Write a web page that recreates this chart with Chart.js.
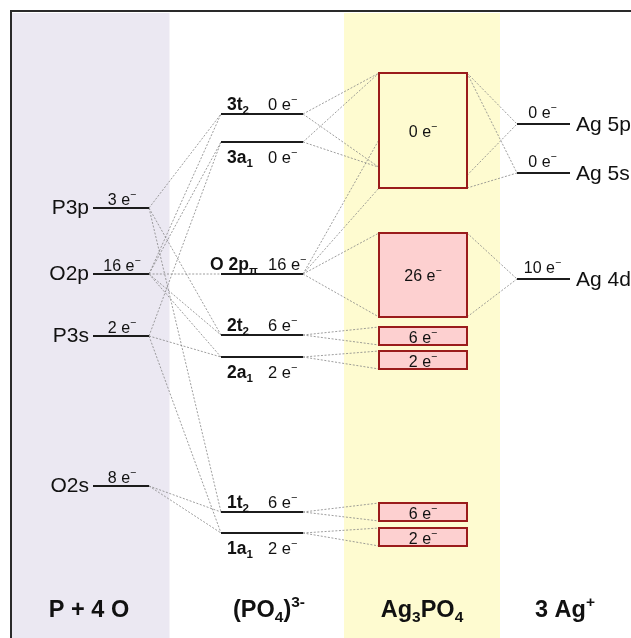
<!DOCTYPE html>
<html>
<head>
<meta charset="utf-8">
<script src="https://cdn.jsdelivr.net/npm/chart.js@4/dist/chart.umd.min.js"></script>
<style>
  html, body { margin: 0; padding: 0; background: #ffffff; }
  #wrap { position: relative; width: 631px; height: 638px; }
</style>
</head>
<body>
<div id="wrap"><canvas id="mo"></canvas></div>
<script>
// ---- Energy levels (arbitrary energy units, higher = less bound) ----
// Atomic orbitals of P + 4 O
const atomicNames = ['P3p', 'O2p', 'P3s', 'O2s'];
const atomicEnergies = [43.0, 36.4, 30.2, 15.2];
const atomicElectrons = [3, 16, 2, 8];

// Molecular orbitals of the (PO4)3- ion; "_" starts a subscript
const ionNames = ['3t_2', '3a_1', 'O 2p_π', '2t_2', '2a_1', '1t_2', '1a_1'];
const ionEnergies = [52.4, 49.6, 36.4, 30.3, 28.1, 12.6, 10.5];
const ionElectrons = [0, 0, 16, 6, 2, 6, 2];
const ionLabelBelow = [false, true, false, false, true, false, true];

// Bands of solid Ag3PO4 (upper and lower energy of each band)
const bandTop = [56.5, 40.5, 31.1, 28.7, 13.5, 11.0];
const bandBottom = [45.0, 32.1, 29.3, 26.9, 11.7, 9.2];
const bandElectrons = [0, 26, 6, 2, 6, 2];

// Ag+ levels
const agNames = ['Ag 5p', 'Ag 5s', 'Ag 4d'];
const agEnergies = [51.4, 46.5, 35.9];
const agElectrons = [0, 0, 10];

// Correlation lines: [atomic index, ion MO index]
const atomIonLinks = [[0,0],[0,3],[0,5],[1,0],[1,1],[1,2],[1,3],[1,4],[2,1],[2,4],[2,6],[3,5],[3,6]];
// [ion MO index, band index, attach point (0 = band top, 1 = band bottom)]
const ionBandLinks = [[0,0,0],[0,0,0.82],[1,0,0],[1,0,0.82],[2,0,0.58],[2,0,1],[2,1,0],[2,1,1],
                      [3,2,0],[3,2,1],[4,3,0],[4,3,1],[5,4,0],[5,4,1],[6,5,0],[6,5,1]];
// [Ag level index, band index, attach point]
const agBandLinks = [[0,0,0],[0,0,0.89],[1,0,0],[1,0,1],[2,1,0],[2,1,1]];

// Column headings
const columnTitles = [
  [['P + 4 O','n']],
  [['(PO','n'],['4','sub'],[')','n'],['3-','sup']],
  [['Ag','n'],['3','sub'],['PO','n'],['4','sub']],
  [['3 Ag','n'],['+','sup']]
];

// ---- Layout (x in horizontal units of the diagram) ----
const ATOM_X = [9.3, 14.9];
const ION_X = [22.1, 30.3];
const BAND_X = [37.9, 46.7];
const AG_X = [51.7, 57.0];
const STRIPES = [{x0: 1.2, x1: 16.95, color: '#ebe8f2'}, {x0: 34.4, x1: 50.0, color: '#fefbd0'}];
const TITLE_X = [8.9, 26.9, 42.2, 56.5];

const FONT = '"Liberation Sans", Arial, Helvetica, sans-serif';
const LEVEL_COLOR = '#1c1c1c';
const LINK_COLOR = '#858585';

function level(x0, x1, e) {
  return { data: [{x: x0, y: e}, {x: x1, y: e}], showLine: true, borderColor: LEVEL_COLOR,
           borderWidth: 2, pointRadius: 0, borderCapStyle: 'butt', order: 1 };
}
function link(xa, ea, xb, eb) {
  return { data: [{x: xa, y: ea}, {x: xb, y: eb}], showLine: true, borderColor: LINK_COLOR,
           borderWidth: 0.8, borderDash: [2, 1.6], pointRadius: 0, order: 2 };
}
const bandAt = (b, f) => bandTop[b] - f * (bandTop[b] - bandBottom[b]);

const datasets = [];
atomIonLinks.forEach(([a, m]) => datasets.push(link(ATOM_X[1], atomicEnergies[a], ION_X[0], ionEnergies[m])));
ionBandLinks.forEach(([m, b, f]) => datasets.push(link(ION_X[1], ionEnergies[m], BAND_X[0], bandAt(b, f))));
agBandLinks.forEach(([g, b, f]) => datasets.push(link(BAND_X[1], bandAt(b, f), AG_X[0], agEnergies[g])));
atomicEnergies.forEach(e => datasets.push(level(ATOM_X[0], ATOM_X[1], e)));
ionEnergies.forEach(e => datasets.push(level(ION_X[0], ION_X[1], e)));
agEnergies.forEach(e => datasets.push(level(AG_X[0], AG_X[1], e)));

// Rich text: parts are [text, mode] with mode 'n', 'sub' or 'sup'
function partsWidth(ctx, parts, size, weight) {
  let w = 0;
  parts.forEach(([t, mode]) => {
    const s = mode === 'n' ? size : size * 0.66;
    ctx.font = `${weight} ${s}px ${FONT}`;
    w += ctx.measureText(t).width;
  });
  return w;
}
function drawParts(ctx, parts, x, y, align, size, weight) {
  const w = partsWidth(ctx, parts, size, weight);
  let cx = align === 'center' ? x - w / 2 : align === 'right' ? x - w : x;
  ctx.textAlign = 'left';
  ctx.textBaseline = 'alphabetic';
  parts.forEach(([t, mode]) => {
    const s = mode === 'n' ? size : size * 0.66;
    ctx.font = `${weight} ${s}px ${FONT}`;
    const dy = mode === 'sub' ? size * 0.22 : mode === 'sup' ? -size * 0.42 : 0;
    ctx.fillText(t, cx, y + dy);
    cx += ctx.measureText(t).width;
  });
}
const electronParts = n => [[n + ' e', 'n'], ['\u2212', 'sup']];
function nameParts(name) {
  const i = name.indexOf('_');
  return i < 0 ? [[name, 'n']] : [[name.slice(0, i), 'n'], [name.slice(i + 1), 'sub']];
}

const diagramPlugin = {
  id: 'diagram',
  beforeDatasetsDraw(chart) {
    const ctx = chart.ctx, xs = chart.scales.x, ys = chart.scales.y;
    const X = v => xs.getPixelForValue(v), Y = v => ys.getPixelForValue(v);
    ctx.save();
    STRIPES.forEach(s => {
      ctx.fillStyle = s.color;
      ctx.fillRect(X(s.x0), Y(62.5), X(s.x1) - X(s.x0), Y(0) - Y(62.5));
    });
    // frame along the top and left edge
    ctx.strokeStyle = '#2a2a2a';
    ctx.lineWidth = 2;
    ctx.beginPath();
    ctx.moveTo(X(1.1), chart.height);
    ctx.lineTo(X(1.1), Y(62.7));
    ctx.lineTo(chart.width, Y(62.7));
    ctx.stroke();
    // filled bands of the solid
    bandTop.forEach((t, i) => {
      const x0 = X(BAND_X[0]), x1 = X(BAND_X[1]), y0 = Y(t), y1 = Y(bandBottom[i]);
      if (bandElectrons[i] > 0) { ctx.fillStyle = '#fdd0d0'; ctx.fillRect(x0, y0, x1 - x0, y1 - y0); }
    });
    ctx.restore();
  },
  afterDatasetsDraw(chart) {
    const ctx = chart.ctx, xs = chart.scales.x, ys = chart.scales.y;
    const X = v => xs.getPixelForValue(v), Y = v => ys.getPixelForValue(v);
    ctx.save();
    ctx.fillStyle = '#111';
    // band outlines and electron counts
    bandTop.forEach((t, i) => {
      const x0 = X(BAND_X[0]), x1 = X(BAND_X[1]), y0 = Y(t), y1 = Y(bandBottom[i]);
      ctx.strokeStyle = '#9a1b1b';
      ctx.lineWidth = 2;
      ctx.strokeRect(x0, y0, x1 - x0, y1 - y0);
      const tall = (y1 - y0) > 30;
      const ty = tall ? (y0 + y1) / 2 + 6 : y1 - 2.5;
      ctx.fillStyle = '#111';
      drawParts(ctx, electronParts(bandElectrons[i]), (x0 + x1) / 2, ty, 'center', 16, 'normal');
    });
    // atomic levels
    atomicEnergies.forEach((e, i) => {
      const y = Y(e);
      drawParts(ctx, [[atomicNames[i], 'n']], X(ATOM_X[0]) - 4, y + 6, 'right', 21, 'normal');
      drawParts(ctx, electronParts(atomicElectrons[i]), (X(ATOM_X[0]) + X(ATOM_X[1])) / 2 + 1, y - 3, 'center', 16, 'normal');
    });
    // ion MOs
    ionEnergies.forEach((e, i) => {
      const y = Y(e);
      const ty = ionLabelBelow[i] ? y + 21 : y - 4;
      const nx = ionNames[i].startsWith('O') ? X(ION_X[0]) - 11 : X(ION_X[0]) + 6;
      drawParts(ctx, nameParts(ionNames[i]), nx, ty, 'left', 17.5, 'bold');
      drawParts(ctx, electronParts(ionElectrons[i]), X(ION_X[0]) + 47, ty, 'left', 16.5, 'normal');
    });
    // Ag levels
    agEnergies.forEach((e, i) => {
      const y = Y(e);
      drawParts(ctx, electronParts(agElectrons[i]), (X(AG_X[0]) + X(AG_X[1])) / 2 - 1, y - 6, 'center', 16, 'normal');
      drawParts(ctx, [[agNames[i], 'n']], X(AG_X[1]) + 6, y + 7, 'left', 21, 'normal');
    });
    // column titles
    columnTitles.forEach((parts, i) => {
      drawParts(ctx, parts, X(TITLE_X[i]), Y(2.1), 'center', 23.5, 'bold');
    });
    ctx.restore();
  }
};

new Chart(document.getElementById('mo'), {
  type: 'scatter',
  data: { datasets },
  options: {
    responsive: true,
    maintainAspectRatio: false,
    devicePixelRatio: 1,
    animation: false,
    layout: { padding: 0 },
    plugins: { legend: { display: false }, tooltip: { enabled: false } },
    elements: { line: { tension: 0 } },
    scales: {
      x: { type: 'linear', min: 0, max: 63.1, display: false },
      y: { type: 'linear', min: 0, max: 63.8, display: false }
    }
  },
  plugins: [diagramPlugin]
});
</script>
</body>
</html>
